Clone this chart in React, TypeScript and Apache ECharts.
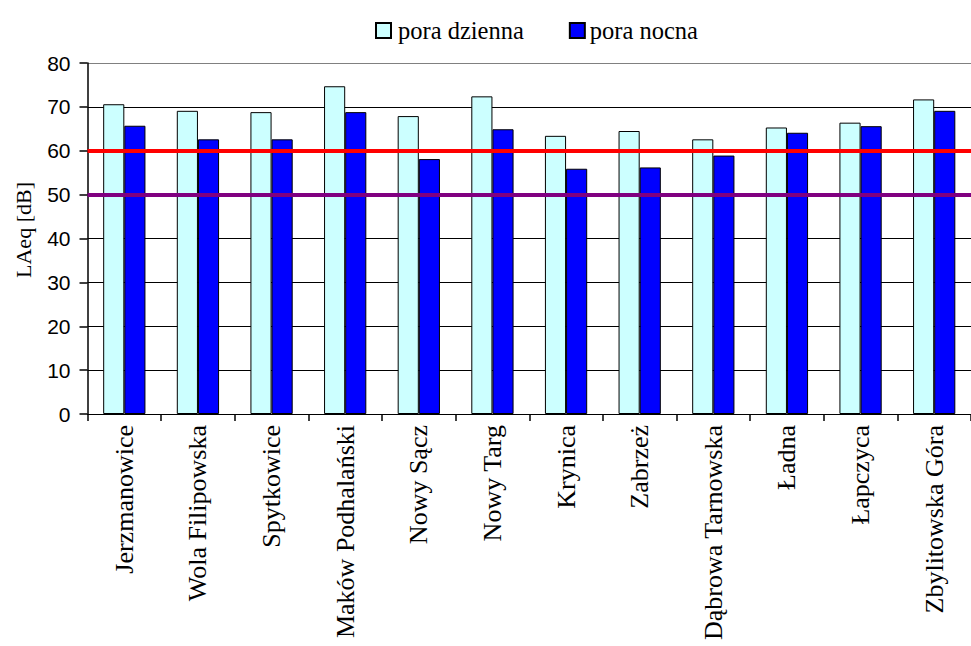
import React, { useEffect, useRef } from "react";
import * as echarts from "echarts";

// Measurement sites
const categories: string[] = [
  "Jerzmanowice",
  "Wola Filipowska",
  "Spytkowice",
  "Maków Podhalański",
  "Nowy Sącz",
  "Nowy Targ",
  "Krynica",
  "Zabrzeż",
  "Dąbrowa Tarnowska",
  "Ładna",
  "Łapczyca",
  "Zbylitowska Góra",
];

// Equivalent sound level LAeq [dB], day and night
const dayValues: number[] = [70.6, 69.1, 68.8, 74.7, 67.9, 72.4, 63.4, 64.5, 62.6, 65.3, 66.4, 71.7];
const nightValues: number[] = [65.7, 62.6, 62.6, 68.8, 58.1, 64.9, 55.9, 56.2, 58.9, 64.1, 65.6, 69.1];

// Permissible levels drawn as horizontal reference lines
const dayLimit = 60;
const nightLimit = 50;

const seriesNames: string[] = ["pora dzienna", "pora nocna"];
const axisTitle = "LAeq [dB]";

const SERIF = "'Liberation Serif', 'Times New Roman', serif";
const SANS = "'Liberation Sans', Arial, sans-serif";

export default function App() {
  const ref = useRef<HTMLDivElement>(null);

  useEffect(() => {
    if (!ref.current) return;
    const chart = echarts.init(ref.current, undefined, { renderer: "svg" });

    // top line of the plot area is grey, the others black
    const splitColors = Array.from({ length: 9 }, (_, i) => (i === 8 ? "#808080" : "#000000"));

    chart.setOption({
      animation: false,
      backgroundColor: "#ffffff",
      legend: {
        top: 13,
        left: 370,
        itemWidth: 15,
        itemHeight: 15,
        itemGap: 45,
        icon: "rect",
        data: [
          { name: seriesNames[0], textStyle: { padding: [0, 0, 0, 2] } },
          { name: seriesNames[1] },
        ],
        textStyle: { fontFamily: SERIF, fontSize: 24.5, color: "#000" },
      },
      graphic: [
        {
          type: "text",
          x: 23,
          y: 230,
          rotation: Math.PI / 2,
          style: {
            text: axisTitle,
            fontFamily: SERIF,
            fontSize: 22,
            fill: "#000",
            textAlign: "center",
            textVerticalAlign: "middle",
          },
        },
      ],
      grid: { left: 87.5, top: 63, right: -9, bottom: 232, containLabel: false },
      xAxis: {
        type: "category",
        data: categories,
        axisLine: { show: true, lineStyle: { color: "#000", width: 1 } },
        axisTick: { show: true, length: 7, alignWithLabel: false, interval: 0, lineStyle: { color: "#000", width: 1.5 } },
        axisLabel: {
          interval: 0,
          rotate: 90,
          margin: 11,
          fontFamily: SERIF,
          fontSize: 26,
          color: "#000",
        },
        splitLine: { show: false },
      },
      yAxis: {
        type: "value",
        min: 0,
        max: 80,
        interval: 10,
        axisLine: { show: true, lineStyle: { color: "#000", width: 1.5 } },
        axisTick: { show: true, length: 8, inside: false, lineStyle: { color: "#000", width: 1.5 } },
        axisLabel: { fontFamily: SANS, fontSize: 21, color: "#000", margin: 17 },
        splitLine: { show: true, lineStyle: { color: splitColors, width: 1.2 } },
      },
      series: [
        {
          name: seriesNames[0],
          type: "bar",
          data: dayValues,
          barGap: "0%",
          barCategoryGap: "42.6%",
          itemStyle: { color: "#CCFFFF", borderColor: "#000", borderWidth: 1 },
          emphasis: { disabled: true },
        },
        {
          name: seriesNames[1],
          type: "bar",
          data: nightValues,
          barGap: "0%",
          barCategoryGap: "42.6%",
          itemStyle: { color: "#0000FF", borderColor: "#000", borderWidth: 1 },
          emphasis: { disabled: true },
          markLine: {
            silent: true,
            symbol: ["none", "none"],
            label: { show: false },
            emphasis: { disabled: true },
            data: [
              { yAxis: dayLimit, lineStyle: { color: "#FF0000", width: 4, type: "solid" } },
              { yAxis: nightLimit, lineStyle: { color: "#800080", width: 4, type: "solid" } },
            ],
          },
        },
      ],
    });

    return () => chart.dispose();
  }, []);

  return (
    <div
      ref={ref}
      style={{ position: "absolute", left: 0, top: 0, width: 971, height: 646, background: "#fff" }}
    />
  );
}
